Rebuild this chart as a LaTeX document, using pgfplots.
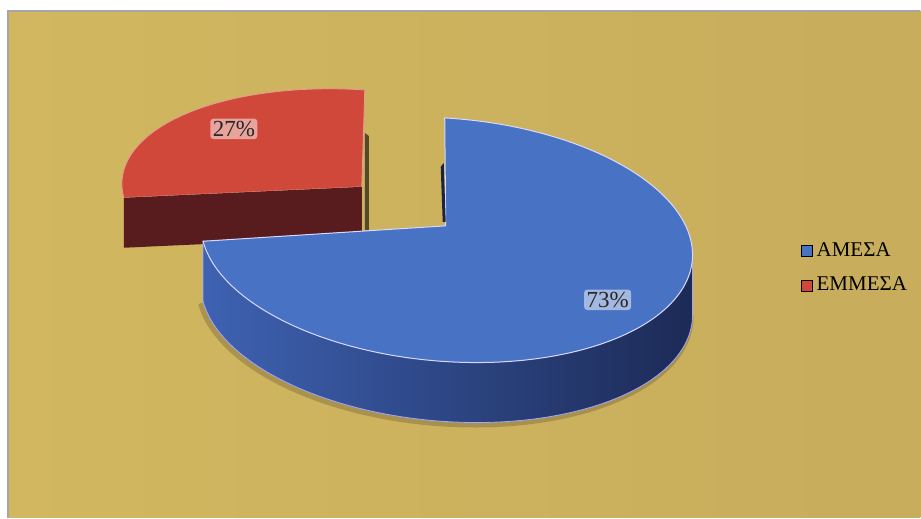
\documentclass[border=0pt]{standalone}
\usepackage{pgfplots}
\pgfplotsset{compat=1.18}
\usepackage{pgfplotstable}
\usepackage{fontspec}
\setmainfont{Liberation Serif}

\definecolor{goldL}{RGB}{210,183,96}
\definecolor{goldR}{RGB}{199,173,92}
\definecolor{blueTop}{RGB}{72,114,196}
\definecolor{blueSideL}{RGB}{62,98,178}
\definecolor{blueSideR}{RGB}{28,42,86}
\definecolor{redTop}{RGB}{208,72,58}
\definecolor{redDark}{RGB}{88,28,30}
\definecolor{stripB}{RGB}{30,35,60}
\definecolor{stripR}{RGB}{85,72,45}

\pgfplotstableread{
label value
A 73
B 27
}\piedata

\begin{document}
\pgfplotstablegetelem{0}{value}\of\piedata \pgfmathsetmacro\va{\pgfplotsretval}%
\pgfplotstablegetelem{1}{value}\of\piedata \pgfmathsetmacro\vb{\pgfplotsretval}%
\pgfmathsetmacro\thA{90-3.6*\va}%
\pgfmathsetmacro\thB{90+3.6*\vb}%
\pgfmathsetmacro\bxl{447+246*cos(\thA)-2*sin(\thA)}%
\pgfmathsetmacro\byl{240+14*cos(\thA)-122*sin(\thA)}%
\pgfmathsetmacro\rxl{365+243*cos(\thB)}%
\pgfmathsetmacro\ryl{200+16*cos(\thB)-110*sin(\thB)}%
\pgfmathsetmacro\rylb{\ryl+50}%
\begin{tikzpicture}
\begin{axis}[scale only axis, width=460.5bp, height=259bp,
  xmin=0, xmax=921, ymin=0, ymax=518, y dir=reverse,
  hide axis, clip=false,
  legend style={draw=none, fill=none, at={(axis cs:801,238)}, anchor=north west,
    font=\fontsize{10.5bp}{12bp}\selectfont, row sep=5bp, inner sep=0pt,
    /tikz/every even column/.append style={column sep=0bp}},
  legend cell align=left,
  legend image code/.code={\fill[#1] (0bp,-2.75bp) rectangle (5.5bp,2.75bp);}]
\fill[white] (axis cs:0,0) rectangle (axis cs:921,518);
\fill[left color=goldL, right color=goldR] (axis cs:8,11) rectangle (axis cs:921,518);
\draw[gray!70, line width=0.6bp] (axis cs:8,518) -- (axis cs:8,11) -- (axis cs:921,11);

% red slice (exploded)
\addplot[fill=redTop, draw=redTop!55!white, line width=0.4bp, domain=90:\thB, samples=80, variable=\t, forget plot]
  ({365+243*cos(t)}, {200+16*cos(t)-110*sin(t)}) -- (axis cs:362,187) -- cycle;
\addplot[fill=redDark, draw=none, forget plot] coordinates {(362,187) (\rxl,\ryl) (\rxl,\rylb) (362,237)} -- cycle;
\addplot[fill=stripR, draw=none, forget plot] coordinates {(365,133) (369,136) (369,230) (365,230)} -- cycle;

% blue slice
\addplot[draw=black, opacity=0.18, line width=3bp, domain=\thA:0, samples=80, variable=\t, forget plot]
  ({445+246*cos(t)-2*sin(t)}, {302+14*cos(t)-122*sin(t)});
\addplot[left color=blueSideL, right color=blueSideR, draw=white!65!blue, line width=0.4bp, domain=\thA:0, samples=100, variable=\t, forget plot]
  ({447+246*cos(t)-2*sin(t)}, {300+14*cos(t)-122*sin(t)}) -- (axis cs:693,254) -- (axis cs:\bxl,\byl) -- cycle;
\addplot[fill=blueTop, draw=white!85!blue, line width=0.5bp, domain=\thA:90, samples=150, variable=\t, forget plot]
  ({447+246*cos(t)-2*sin(t)}, {240+14*cos(t)-122*sin(t)}) -- (axis cs:446,226) -- cycle;
\addplot[fill=stripB, draw=none, forget plot] coordinates {(441,167) (444,163) (446,222) (443,222)} -- cycle;

% labels
\node[fill=white, fill opacity=0.5, text opacity=1, inner sep=1.2bp, rounded corners=1.5bp,
  font=\fontsize{11.5bp}{13bp}\selectfont, text=black!85] at (axis cs:608,300) {73\%};
\node[fill=white, fill opacity=0.5, text opacity=1, inner sep=1.2bp, rounded corners=1.5bp,
  font=\fontsize{11.5bp}{13bp}\selectfont, text=black!85] at (axis cs:234,129) {27\%};

% legend
\addlegendimage{fill=blueTop}
\addlegendentry{ΑΜΕΣΑ}
\addlegendimage{fill=redTop}
\addlegendentry{ΕΜΜΕΣΑ}
\end{axis}
\end{tikzpicture}
\end{document}
